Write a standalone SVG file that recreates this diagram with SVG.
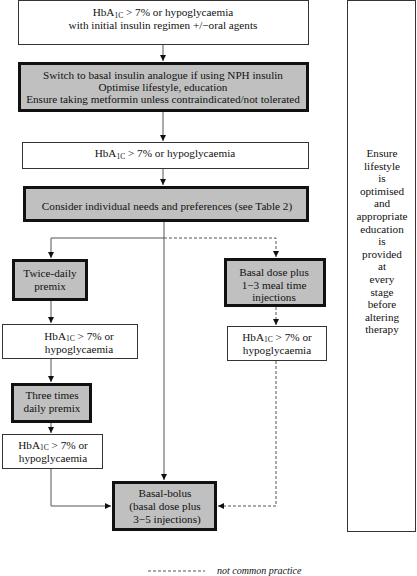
<svg xmlns="http://www.w3.org/2000/svg" width="417" height="576" viewBox="0 0 417 576">
<style>
text{font-family:'Liberation Serif','DejaVu Serif',serif;font-size:11.2px;fill:#111;text-anchor:middle}
.thin{fill:#fff;stroke:#333;stroke-width:1}
.thick{fill:#c0c0c0;stroke:#111;stroke-width:3}
.sub{font-size:7.5px}
.c{fill:none;stroke:#555;stroke-width:1}
.d{fill:none;stroke:#555;stroke-width:1;stroke-dasharray:3,2}
</style>
<defs>
<marker id="ah" markerUnits="userSpaceOnUse" markerWidth="8" markerHeight="8" refX="6" refY="3" orient="auto">
<path d="M0,0 L6,3 L0,6 z" fill="#111"/>
</marker>
</defs>
<g id="connectors">
<path class="c" d="M163,44.5 V61" marker-end="url(#ah)"/>
<path class="c" d="M163,112 V141" marker-end="url(#ah)"/>
<path class="c" d="M163,168.5 V185" marker-end="url(#ah)"/>
<path class="c" d="M164,222 V480" marker-end="url(#ah)"/>
<path class="c" d="M164,238 H51 V258" marker-end="url(#ah)"/>
<path class="d" d="M164,238 H276 V257" marker-end="url(#ah)"/>
<path class="c" d="M51,301 V323" marker-end="url(#ah)"/>
<path class="c" d="M51,359 V382" marker-end="url(#ah)"/>
<path class="c" d="M51,423 V433" marker-end="url(#ah)"/>
<path class="c" d="M51,469 V506 H111" marker-end="url(#ah)"/>
<path class="d" d="M276,307 V325" marker-end="url(#ah)"/>
<path class="d" d="M276,361 V506 H218" marker-end="url(#ah)"/>
</g>
<g font-family="Liberation Serif, DejaVu Serif, serif">
<g id="n1">
<rect class="thin" x="18.5" y="0.5" width="290" height="44"/>
<text x="163" y="16">HbA<tspan class="sub" dy="1.5">1C</tspan><tspan dy="-1.5"> &gt; 7% or hypoglycaemia</tspan></text>
<text x="163" y="29">with initial insulin regimen +/−oral agents</text>
</g>
<g id="n2">
<rect class="thick" x="19.5" y="63.5" width="288" height="47"/>
<text x="163" y="79">Switch to basal insulin analogue if using NPH insulin</text>
<text x="163" y="91">Optimise lifestyle, education</text>
<text x="163" y="103">Ensure taking metformin unless contraindicated/not tolerated</text>
</g>
<g id="n3">
<rect class="thin" x="22.5" y="142.5" width="286" height="26"/>
<text x="165" y="157">HbA<tspan class="sub" dy="1.5">1C</tspan><tspan dy="-1.5"> &gt; 7% or hypoglycaemia</tspan></text>
</g>
<g id="n4">
<rect class="thick" x="24.5" y="187.5" width="283" height="33"/>
<text x="167" y="210">Consider individual needs and preferences (see Table 2)</text>
</g>
<g id="n5">
<rect class="thick" x="13.5" y="260.5" width="73" height="39"/>
<text x="50" y="277">Twice-daily</text>
<text x="50" y="290">premix</text>
</g>
<g id="n6">
<rect class="thick" x="225.5" y="259.5" width="99" height="46"/>
<text x="274" y="276">Basal dose plus</text>
<text x="274" y="288.5">1−3 meal time</text>
<text x="274" y="301">injections</text>
</g>
<g id="n7">
<rect class="thin" x="2.5" y="324.5" width="135" height="34"/>
<text x="79" y="339.5">HbA<tspan class="sub" dy="1.5">1C</tspan><tspan dy="-1.5"> &gt; 7% or</tspan></text>
<text x="79" y="352.5">hypoglycaemia</text>
</g>
<g id="n8">
<rect class="thin" x="227.5" y="326.5" width="99" height="34"/>
<text x="277" y="340.5">HbA<tspan class="sub" dy="1.5">1C</tspan><tspan dy="-1.5"> &gt; 7% or</tspan></text>
<text x="277" y="353.5">hypoglycaemia</text>
</g>
<g id="n9">
<rect class="thick" x="12.5" y="384.5" width="78" height="37"/>
<text x="52" y="399">Three times</text>
<text x="52" y="412">daily premix</text>
</g>
<g id="n10">
<rect class="thin" x="2.5" y="434.5" width="100" height="34"/>
<text x="53" y="448.5">HbA<tspan class="sub" dy="1.5">1C</tspan><tspan dy="-1.5"> &gt; 7% or</tspan></text>
<text x="53" y="461.5">hypoglycaemia</text>
</g>
<g id="n11">
<rect class="thick" x="113.5" y="482.5" width="102" height="47"/>
<text x="165" y="497">Basal-bolus</text>
<text x="165" y="510">(basal dose plus</text>
<text x="167" y="523">3−5 injections)</text>
</g>
<g id="n12">
<rect class="thin" x="347.5" y="0.5" width="68" height="531"/>
<text x="382" y="157">Ensure</text>
<text x="382" y="169.6">lifestyle</text>
<text x="382" y="182.2">is</text>
<text x="382" y="194.8">optimised</text>
<text x="382" y="207.4">and</text>
<text x="382" y="220">appropriate</text>
<text x="382" y="232.6">education</text>
<text x="382" y="245.2">is</text>
<text x="382" y="257.8">provided</text>
<text x="382" y="270.4">at</text>
<text x="382" y="283">every</text>
<text x="382" y="295.6">stage</text>
<text x="382" y="308.2">before</text>
<text x="382" y="320.8">altering</text>
<text x="382" y="333.4">therapy</text>
</g>
<g id="legend">
<path class="d" d="M148,571 H205"/>
<text x="217" y="574" style="font-size:10px;font-style:italic;text-anchor:start">not common practice</text>
</g>
</g>
</svg>
